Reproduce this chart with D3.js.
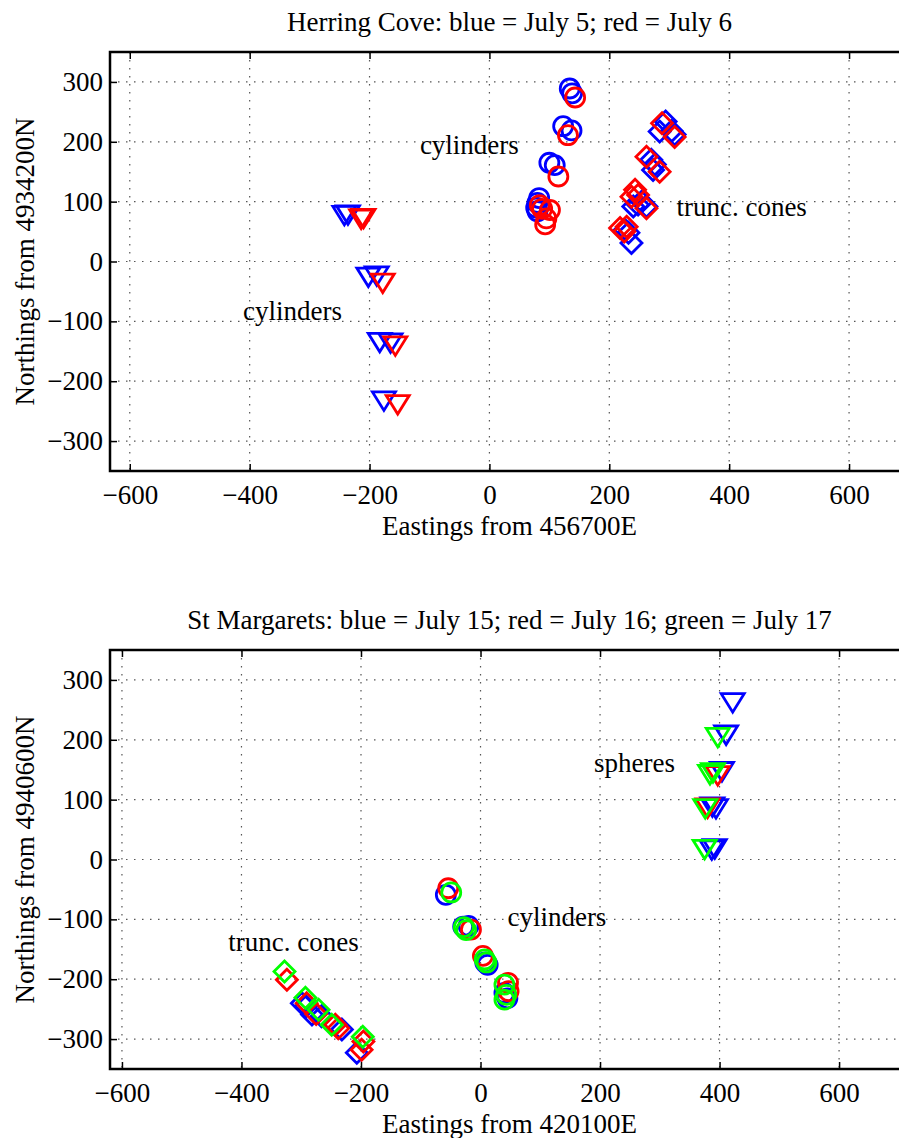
<!DOCTYPE html>
<html>
<head>
<meta charset="utf-8">
<script src="https://cdn.jsdelivr.net/npm/d3@7"></script>
<style>
    body { margin: 0; background: #fff; overflow: hidden; }
    text { font-family: "Liberation Serif", "DejaVu Serif", "Times New Roman", serif; fill: #000; }
</style>
</head>
<body>
<div id="chart-container"></div>
<script>
// Herring Cove, July 5 (blue) / July 6 (red)
var hcBlueTri = [[-242, 77], [-236, 78], [-202, -26], [-188, -24], [-183, -135], [-165, -136], [-176, -233]];
var hcRedTri = [[-214, 71], [-210, 72], [-178, -36], [-157, -141], [-153, -239]];
var hcBlueCirc = [[134, 289], [138, 281], [123, 226], [137, 219], [100, 165], [109, 161], [83, 106], [80, 98], [78, 90], [80, 84]];
var hcRedCirc = [[143, 274], [131, 211], [115, 142], [84, 94], [101, 86], [88, 88], [95, 72], [93, 62]];
var hcBlueDiam = [[294, 234], [284, 217], [304, 218], [309, 212], [270, 170], [276, 162], [273, 153], [254, 100], [248, 95], [240, 92], [262, 92], [226, 53], [232, 48], [237, 31]];
var hcRedDiam = [[288, 231], [309, 208], [262, 175], [284, 150], [243, 120], [248, 111], [237, 108], [262, 89], [218, 56], [229, 58], [225, 50]];

// St Margarets, July 15 (blue) / July 16 (red) / July 17 (green)
var smBlueTri = [[422, 262], [411, 208], [404, 147], [394, 85], [388, 88], [387, 16], [392, 18]];
var smRedTri = [[397, 140], [380, 86]];
var smGreenTri = [[397, 204], [384, 142], [389, 145], [376, 85], [375, 17]];
var smBlueCirc = [[-58, -59], [-29, -112], [-20, -111], [12, -176], [8, -172], [40, -223], [45, -232]];
var smRedCirc = [[-54, -48], [-16, -117], [4, -161], [46, -206], [47, -220]];
var smGreenCirc = [[-49, -55], [-28, -113], [-24, -118], [7, -167], [10, -172], [40, -209], [43, -226], [40, -234]];
var smBlueDiam = [[-299, -240], [-292, -245], [-282, -259], [-266, -262], [-232, -284], [-207, -323]];
var smRedDiam = [[-324, -201], [-291, -240], [-275, -258], [-243, -276], [-238, -282], [-196, -304], [-199, -318]];
var smGreenDiam = [[-328, -187], [-293, -231], [-271, -251], [-249, -276], [-197, -296]];

var xTicks = [-600, -400, -200, 0, 200, 400, 600];
var yTicks = [-300, -200, -100, 0, 100, 200, 300];

// marker outlines, centred on the data point
var markerPath = {
    tri: "M-11.5,-9L11.5,-9L0,9.5Z",
    circ: "M9.5,0A9.5,9.5 0 1,1 -9.5,0A9.5,9.5 0 1,1 9.5,0Z",
    diam: "M0,-10.5L10.5,0L0,10.5L-10.5,0Z"
};

var panels = [
    {
        top: 52, xDomain: [-633, 700],
        title: "Herring Cove: blue = July 5; red = July 6",
        xlabel: "Eastings from 456700E", ylabel: "Northings from 4934200N",
        series: [
            [hcBlueTri, "tri", "#0000ff"], [hcBlueCirc, "circ", "#0000ff"], [hcBlueDiam, "diam", "#0000ff"],
            [hcRedTri, "tri", "#ff0000"], [hcRedCirc, "circ", "#ff0000"], [hcRedDiam, "diam", "#ff0000"]
        ],
        notes: [["cylinders", -116, 195], ["trunc. cones", 312, 91], ["cylinders", -411, -82]]
    },
    {
        top: 650, xDomain: [-620, 717],
        title: "St Margarets: blue = July 15; red = July 16; green = July 17",
        xlabel: "Eastings from 420100E", ylabel: "Northings from 4940600N",
        series: [
            [smBlueTri, "tri", "#0000ff"], [smBlueCirc, "circ", "#0000ff"], [smBlueDiam, "diam", "#0000ff"],
            [smRedTri, "tri", "#ff0000"], [smRedCirc, "circ", "#ff0000"], [smRedDiam, "diam", "#ff0000"],
            [smGreenTri, "tri", "#00ff00"], [smGreenCirc, "circ", "#00ff00"], [smGreenDiam, "diam", "#00ff00"]
        ],
        notes: [["spheres", 190, 162], ["cylinders", 45, -96], ["trunc. cones", -422, -137]]
    }
];

var svg = d3.select("#chart-container")
    .append("svg")
    .attr("width", 899)
    .attr("height", 1138);

var left = 110, right = 909, plotH = 419;
var serif = '"Liberation Serif", "DejaVu Serif", serif';

panels.forEach(function(p) {
    var x = d3.scaleLinear().domain(p.xDomain).range([left, right]);
    var y = d3.scaleLinear().domain([-350, 350]).range([p.top + plotH, p.top]);
    var g = svg.append("g");

    // dotted grid
    g.selectAll(".vgrid").data(xTicks).enter().append("line")
        .attr("x1", d => x(d)).attr("x2", d => x(d))
        .attr("y1", p.top).attr("y2", p.top + plotH)
        .attr("stroke", "#555").attr("stroke-width", 1.2)
        .attr("stroke-dasharray", "1.5,6.5");
    g.selectAll(".hgrid").data(yTicks).enter().append("line")
        .attr("y1", d => y(d)).attr("y2", d => y(d))
        .attr("x1", left).attr("x2", right)
        .attr("stroke", "#555").attr("stroke-width", 1.2)
        .attr("stroke-dasharray", "1.5,6.5");

    // axes, ticks pointing inward
    g.append("g")
        .attr("transform", "translate(0," + (p.top + plotH) + ")")
        .call(d3.axisBottom(x).tickValues(xTicks).tickSize(-7).tickPadding(14));
    g.append("g")
        .attr("transform", "translate(0," + p.top + ")")
        .call(d3.axisTop(x).tickValues(xTicks).tickSize(-7).tickFormat(""));
    g.append("g")
        .attr("transform", "translate(" + left + ",0)")
        .call(d3.axisLeft(y).tickValues(yTicks).tickSize(-7).tickPadding(7));

    g.selectAll(".domain").remove();
    g.selectAll(".tick line").attr("stroke", "#000").attr("stroke-width", 1.5);
    g.selectAll(".tick text")
        .style("font-family", serif)
        .style("font-size", "27px")
        .attr("fill", "#000");

    // frame
    g.append("rect")
        .attr("x", left).attr("y", p.top)
        .attr("width", right - left).attr("height", plotH)
        .attr("fill", "none").attr("stroke", "#000").attr("stroke-width", 2.5);

    // markers
    p.series.forEach(function(s) {
        g.append("g").selectAll("path").data(s[0]).enter().append("path")
            .attr("transform", d => "translate(" + x(d[0]) + "," + y(d[1]) + ")")
            .attr("d", markerPath[s[1]])
            .attr("fill", "none")
            .attr("stroke", s[2])
            .attr("stroke-width", 2.8);
    });

    // annotations
    g.selectAll(".note").data(p.notes).enter().append("text")
        .attr("x", d => x(d[1]))
        .attr("y", d => y(d[2]))
        .attr("dy", "0.35em")
        .style("font-family", serif)
        .style("font-size", "27px")
        .text(d => d[0]);

    // title and labels
    g.append("text")
        .attr("x", (left + right) / 2)
        .attr("y", p.top - 21)
        .attr("text-anchor", "middle")
        .style("font-family", serif)
        .style("font-size", "27px")
        .text(p.title);

    g.append("text")
        .attr("x", (left + right) / 2)
        .attr("y", p.top + plotH + 64)
        .attr("text-anchor", "middle")
        .style("font-family", serif)
        .style("font-size", "27px")
        .text(p.xlabel);

    g.append("text")
        .attr("transform", "rotate(-90)")
        .attr("x", -(p.top + plotH / 2))
        .attr("y", 34)
        .attr("text-anchor", "middle")
        .style("font-family", serif)
        .style("font-size", "27px")
        .text(p.ylabel);
});
</script>
</body>
</html>
